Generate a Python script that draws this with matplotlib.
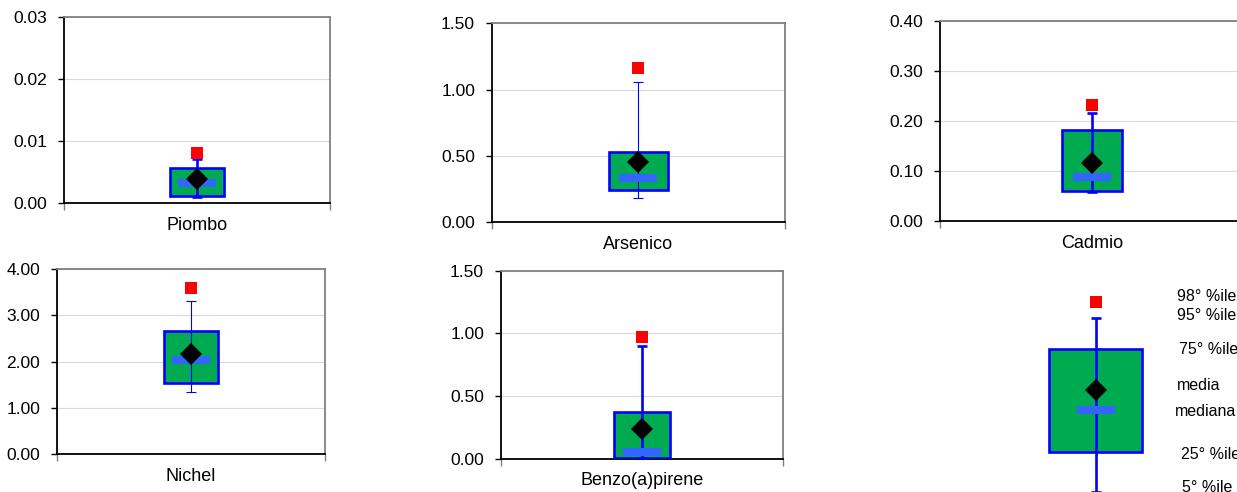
import matplotlib
matplotlib.use("Agg")
import matplotlib.pyplot as plt
import numpy as np

plt.rcParams['font.family'] = ['Liberation Sans', 'DejaVu Sans']

# data
labels = ["Piombo", "Arsenico", "Cadmio", "Nichel", "Benzo(a)pirene"]
p5 = [0.0010, 0.181, 0.058, 1.34, 0.005]
p25 = [0.0012, 0.240, 0.060, 1.53, 0.008]
median = [0.0033, 0.332, 0.088, 2.03, 0.053]
mean = [0.0038, 0.450, 0.116, 2.16, 0.237]
p75 = [0.0056, 0.526, 0.182, 2.67, 0.369]
p95 = [0.0071, 1.055, 0.2165, 3.30, 0.90]
p98 = [0.0081, 1.165, 0.232, 3.58, 0.97]
ymax = [0.03, 1.5, 0.4, 4.0, 1.5]
ystep = [0.01, 0.5, 0.1, 1.0, 0.5]

# schematic legend box (arbitrary units)
legend_names = ["5° %ile", "25° %ile", "mediana", "media", "75° %ile", "95° %ile", "98° %ile"]
legend_vals = [0.5, 40.3, 81.7, 102.0, 142.7, 173.7, 190.3]

W, H = 1237, 492
fig = plt.figure(figsize=(W / 100, H / 100), dpi=100)

# panel frames in pixels: left, top, right, bottom
frames = [(64, 17, 330, 203), (491.7, 23.3, 785, 222), (940, 20.7, 1244, 221.3),
          (56.7, 269, 325, 454.3), (500.7, 270.7, 782.7, 458.7)]
whisker_lw = [1.9, 0.8, 1.9, 0.8, 1.9]

GREEN = '#00AA50'
BLUE = '#0000FF'
MEDBLUE = '#3366FF'
bar_marker = [(-1, -0.21), (1, -0.21), (1, 0.21), (-1, 0.21)]


def add_axes_px(l, t, r, b):
    return fig.add_axes([l / W, 1 - b / H, (r - l) / W, (b - t) / H])


def draw_box(ax, s5, s25, smed, smean, s75, s95, s98, width, wlw):
    ax.bar(0.5, s75 - s25, bottom=s25, width=width, color=GREEN,
           edgecolor=BLUE, linewidth=1.9, zorder=3)
    ax.vlines(0.5, s5, s95, color=BLUE, linewidth=wlw, zorder=4)
    ax.plot([0.5, 0.5], [s5, s95], ls='none', marker='_', ms=7.5,
            mew=wlw, color=BLUE, zorder=4, clip_on=False)
    ax.plot(0.5, smed, ls='none', marker=bar_marker, ms=27.5, mew=0,
            color=MEDBLUE, zorder=5, clip_on=False)
    ax.plot(0.5, smean, ls='none', marker='D', ms=11.5, mew=0,
            color='black', zorder=6, clip_on=False)
    ax.plot(0.5, s98, ls='none', marker='s', ms=8.6, mew=0,
            color='red', zorder=6, clip_on=False)


for i, name in enumerate(labels):
    ax = add_axes_px(*frames[i])
    ax.set_xlim(0, 1)
    ax.set_ylim(0, ymax[i])
    ticks = np.arange(0, ymax[i] + ystep[i] / 2, ystep[i])
    ax.set_yticks(ticks)
    ax.set_yticklabels([f"{t:.2f}" for t in ticks], fontsize=12.5)
    ax.set_xticks([0, 1])
    ax.set_xticklabels([])
    ax.tick_params(axis='y', length=4, width=1, pad=8, color='black')
    ax.tick_params(axis='x', length=5, width=1, color='#808080')
    ax.grid(axis='y', color='#d9d9d9', linewidth=0.8, zorder=0)
    ax.set_axisbelow(True)
    for side in ['left', 'bottom']:
        ax.spines[side].set_color('black')
        ax.spines[side].set_linewidth(1.3)
    for side in ['top', 'right']:
        ax.spines[side].set_color('#808080')
        ax.spines[side].set_linewidth(1.3)
    draw_box(ax, p5[i], p25[i], median[i], mean[i], p75[i], p95[i], p98[i],
             0.2, whisker_lw[i])
    ax.annotate(name, xy=(0.5, 0), xycoords='axes fraction', xytext=(0, -16),
                textcoords='offset points', ha='center', va='center', fontsize=13)

# legend panel
lax = add_axes_px(1003, 272, 1188.5, 492)
lax.set_xlim(0, 1)
lax.set_ylim(0, 220)
lax.axis('off')
s5, s25, smed, smean, s75, s95, s98 = legend_vals
draw_box(lax, s5, s25, smed, smean, s75, s95, s98, 0.5, 1.9)
label_dx = [0.965, 0.96, 0.925, 0.94, 0.95, 0.94, 0.94]
label_dy = [4.5, -2.6, -1.4, 4.0, -0.7, 2.6, 4.9]
for nm, v, dx, dy in zip(legend_names, legend_vals, label_dx, label_dy):
    lax.text(dx, v + dy, nm, ha='left', va='center', fontsize=11.5, clip_on=False)

fig.savefig('out.png', dpi=100)
